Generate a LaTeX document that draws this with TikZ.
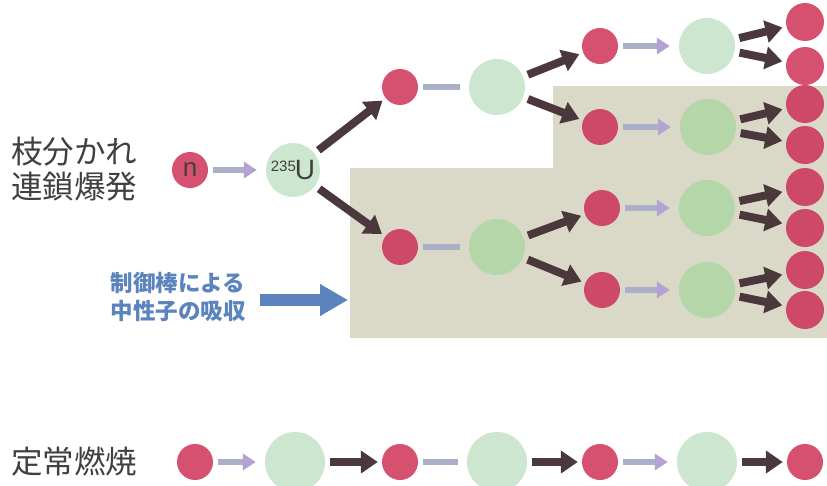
\documentclass[tikz,border=0pt]{standalone}
\usepackage{fontspec}
\setmainfont{Liberation Sans}
\newfontfamily\jp{Noto Sans CJK JP}
\usetikzlibrary{arrows.meta}
\definecolor{nred}{HTML}{D6506F}
\definecolor{nredd}{HTML}{CE4867}
\definecolor{ngreen}{HTML}{CDE6CF}
\definecolor{ngreend}{HTML}{B4D6A8}
\definecolor{rodzone}{HTML}{DAD8C6}
\definecolor{darkarr}{HTML}{4A383C}
\definecolor{lavshaft}{HTML}{ABAFC8}
\definecolor{lavhead}{HTML}{B3A2D2}
\definecolor{absblue}{HTML}{5B83BD}
\definecolor{labelgray}{HTML}{404040}
\tikzset{
  neutron/.style={circle,fill=nred,minimum size=36pt,inner sep=0pt},
  neutrond/.style={neutron,fill=nredd},
  outn/.style={neutrond,minimum size=38pt},
  nucleus/.style={circle,fill=ngreen,minimum size=56pt,inner sep=0pt},
  nucleusd/.style={nucleus,fill=ngreend},
  darr/.style={draw=darkarr,line width=8pt,-{Triangle[width=22pt,length=17pt,fill=darkarr]},shorten <=5pt,shorten >=4pt},
  larr/.style={draw=lavshaft,line width=6pt,-{Triangle[width=16pt,length=13pt,fill=lavhead,color=lavhead]},shorten <=5pt,shorten >=9pt},
  ldash/.style={draw=lavshaft,line width=6pt,shorten <=5pt,shorten >=9pt},
  jlabel/.style={font=\jp\fontsize{31.5}{35}\selectfont,text=labelgray,align=left,inner sep=0pt,anchor=west},
  bluelabel/.style={font=\jp\bfseries\fontsize{22.5}{27.5}\selectfont,text=absblue,align=center,inner sep=0pt}
}
\begin{document}
\begin{tikzpicture}[x=1pt,y=-1pt]
\useasboundingbox (0,0) rectangle (827,485);
\fill[white] (0,0) rectangle (827,485);
% region where control rods absorb neutrons
\fill[rodzone] (350,168) -- (553,168) -- (553,86) -- (827,86) -- (827,338) -- (350,338) -- cycle;

% branching chain reaction
\node[jlabel] (lab1) at (11,169) {枝分かれ\\連鎖爆発};
\node[neutron] (n) at (190,170) {\fontsize{26}{26}\selectfont\color{labelgray}n};
\node[nucleus,minimum size=54pt] (u) at (293,170) {\color{labelgray}\raisebox{8pt}{\fontsize{15}{15}\selectfont 235}\hspace{-1pt}{\fontsize{28}{28}\selectfont U}};

\node[neutron] (a1) at (400,87) {};
\node[nucleus] (A1) at (497,87) {};
\node[neutron] (b1) at (600,46) {};
\node[nucleus] (B1) at (707,46) {};
\node[outn,fill=nred] (c1) at (805,22) {};
\node[outn,fill=nred] (c2) at (805,66) {};
\node[neutrond] (b2) at (600,127) {};
\node[nucleusd] (B2) at (708,127) {};
\node[outn] (c3) at (805,104) {};
\node[outn] (c4) at (805,145) {};

\node[neutrond] (a2) at (400,247) {};
\node[nucleusd] (A2) at (497,247) {};
\node[neutrond] (b3) at (602,208) {};
\node[nucleusd] (B3) at (707,208) {};
\node[outn] (c5) at (805,187) {};
\node[outn] (c6) at (805,228) {};
\node[neutrond] (b4) at (602,290) {};
\node[nucleusd] (B4) at (707,290) {};
\node[outn] (c7) at (805,270) {};
\node[outn] (c8) at (805,310) {};

\draw[larr] (n) -- (u);
\draw[darr] (u) -- (a1);
\draw[darr] (u) -- (a2);
\draw[ldash] (a1) -- (A1);
\draw[ldash] (a2) -- (A2);
\draw[darr] (A1) -- (b1);
\draw[darr] (A1) -- (b2);
\draw[darr] (A2) -- (b3);
\draw[darr] (A2) -- (b4);
\draw[larr] (b1) -- (B1);
\draw[larr] (b2) -- (B2);
\draw[larr] (b3) -- (B3);
\draw[larr] (b4) -- (B4);
\draw[darr] (B1) -- (c1);
\draw[darr] (B1) -- (c2);
\draw[darr] (B2) -- (c3);
\draw[darr] (B2) -- (c4);
\draw[darr] (B3) -- (c5);
\draw[darr] (B3) -- (c6);
\draw[darr] (B4) -- (c7);
\draw[darr] (B4) -- (c8);

% absorption by control rods
\node[bluelabel] (abs) at (178,297) {制御棒による\\中性子の吸収};
\coordinate (wall) at (348,300);
\draw[draw=absblue,line width=12pt,-{Triangle[width=30pt,length=28pt,fill=absblue]},shorten <=14pt] (abs.east |- wall) -- (wall);

% steady burning
\node[jlabel] (lab2) at (11,462) {定常燃焼};
\node[neutron] (s1) at (195,462) {};
\node[nucleus,minimum size=60pt] (S1) at (295,462) {};
\node[neutron] (s2) at (400,462) {};
\node[nucleus,minimum size=60pt] (S2) at (497,462) {};
\node[neutron] (s3) at (600,462) {};
\node[nucleus,minimum size=60pt] (S3) at (707,462) {};
\node[neutron] (s4) at (805,462) {};
\draw[larr] (s1) -- (S1);
\draw[darr] (S1) -- (s2);
\draw[ldash] (s2) -- (S2);
\draw[darr] (S2) -- (s3);
\draw[larr] (s3) -- (S3);
\draw[darr] (S3) -- (s4);
\end{tikzpicture}
\end{document}
